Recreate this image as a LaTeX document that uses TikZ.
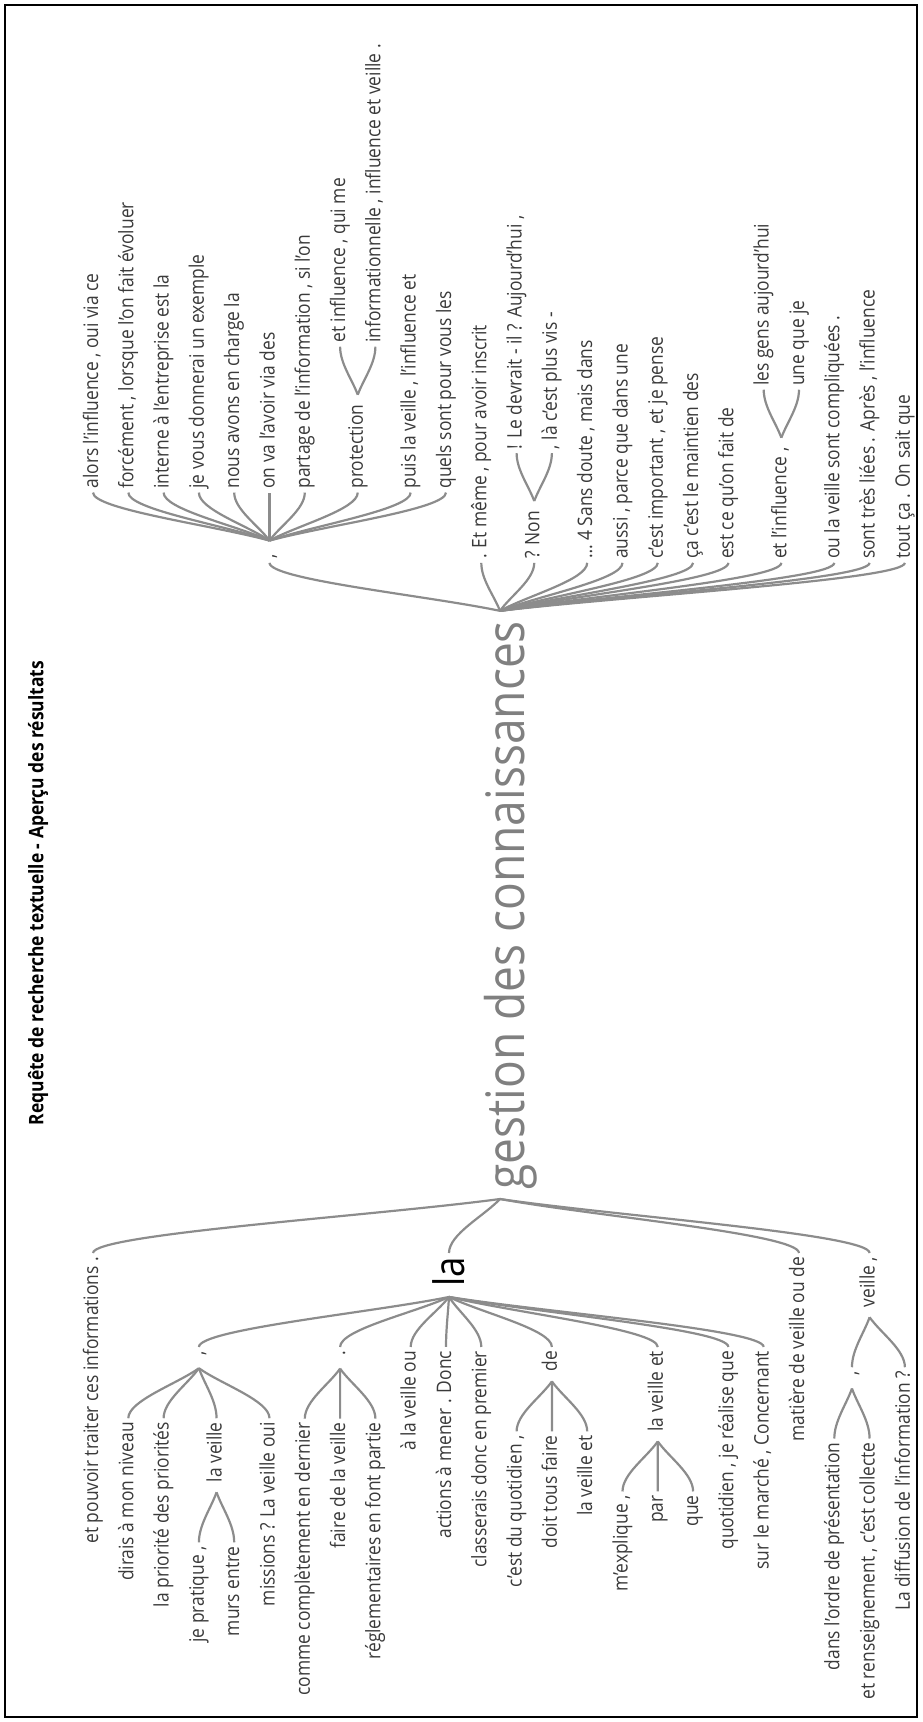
\documentclass[tikz,border=0pt]{standalone}
\usepackage{fontspec}
\setmainfont{Open Sans}[FakeStretch=0.87]
\usetikzlibrary{calc}
\definecolor{txtc}{HTML}{3A3A3A}
\definecolor{rootc}{HTML}{808080}
\definecolor{linec}{HTML}{8C8C8C}
\newcommand\lnk[3]{%
  \coordinate (tmpE) at ([yshift=#3]#2);
  \draw[conn] (#1) .. controls ($(#1)!0.32!(tmpE)$) and ($(tmpE |- #1)!0.65!(tmpE)$) .. (tmpE);}
\begin{document}
\begin{tikzpicture}[x=1pt,y=-1pt,
  conn/.style={draw=linec, line width=2.2pt},
  tx/.style={rotate=90, inner sep=0pt, outer sep=0pt, font=\fontsize{20}{24}\selectfont, text=txtc, text height=15pt, text depth=5pt},
  sfx/.style={tx, anchor=west},
  pfx/.style={tx, anchor=east}]
\useasboundingbox (0,0) rectangle (922,1722);
\draw[line width=1.5pt] (5,5) rectangle (917,1717);

% title
\node[rotate=90, anchor=east, inner sep=0pt, font=\bfseries\fontsize{20}{24}\selectfont] (title) at (38,661) {Requête de recherche textuelle - Aperçu des résultats};

% root
\node[rotate=90, anchor=base west, inner sep=0pt, font=\fontsize{53}{60}\selectfont, text=rootc] (R) at (524,1190) {gestion des connaissances};
\coordinate (hS) at ($(500,0 |- R.east)+(0,-10)$);
\coordinate (hP) at ($(500,0 |- R.west)+(0,9)$);

% ---------- suffix tree (upper part) ----------
\node[sfx] (sC) at ($(269.5,0 |- hS)+(0,-52)$) {,};
\node[sfx] (s11) at ($(481.3,0 |- hS)+(0,-52)$) {. Et même , pour avoir inscrit};
\node[sfx] (sNon) at ($(534.25,0 |- hS)+(0,-52)$) {? Non};
\node[sfx] (s14) at ($(587.2,0 |- hS)+(0,-52)$) {… 4 Sans doute , mais dans};
\node[sfx] (s15) at ($(622.5,0 |- hS)+(0,-52)$) {aussi , parce que dans une};
\node[sfx] (s16) at ($(657.8,0 |- hS)+(0,-52)$) {c'est important , et je pense};
\node[sfx] (s17) at ($(693.1,0 |- hS)+(0,-52)$) {ça c'est le maintien des};
\node[sfx] (s18) at ($(728.4,0 |- hS)+(0,-52)$) {est ce qu'on fait de};
\node[sfx] (sInf) at ($(781.35,0 |- hS)+(0,-52)$) {et l'influence ,};
\node[sfx] (s21) at ($(834.3,0 |- hS)+(0,-52)$) {ou la veille sont compliquées .};
\node[sfx] (s22) at ($(869.6,0 |- hS)+(0,-52)$) {sont très liées . Après , l'influence};
\node[sfx] (s23) at ($(904.9,0 |- hS)+(0,-52)$) {tout ça . On sait que};
\foreach \n in {sC,s11,sNon,s14,s15,s16,s17,s18,sInf,s21,s22,s23} {\lnk{hS}{\n.west}{-4pt}}

\coordinate (hC) at ($(sC.east)+(0,-14)$);
\node[sfx] (c0) at ($(93,0 |- hC)+(0,-52)$) {alors l'influence , oui via ce};
\node[sfx] (c1) at ($(128.3,0 |- hC)+(0,-52)$) {forcément , lorsque l'on fait évoluer};
\node[sfx] (c2) at ($(163.6,0 |- hC)+(0,-52)$) {interne à l'entreprise est la};
\node[sfx] (c3) at ($(198.9,0 |- hC)+(0,-52)$) {je vous donnerai un exemple};
\node[sfx] (c4) at ($(234.2,0 |- hC)+(0,-52)$) {nous avons en charge la};
\node[sfx] (c5) at ($(269.5,0 |- hC)+(0,-52)$) {on va l'avoir via des};
\node[sfx] (c6) at ($(304.8,0 |- hC)+(0,-52)$) {partage de l'information , si l'on};
\node[sfx] (cP) at ($(357.75,0 |- hC)+(0,-52)$) {protection};
\node[sfx] (c9) at ($(410.7,0 |- hC)+(0,-52)$) {puis la veille , l'influence et};
\node[sfx] (c10) at ($(446,0 |- hC)+(0,-52)$) {quels sont pour vous les};
\foreach \n in {c0,c1,c2,c3,c4,c5,c6,cP,c9,c10} {\lnk{hC}{\n.west}{-4pt}}

\coordinate (hPr) at ($(cP.east)+(0,-10)$);
\node[sfx] (c7) at ($(340.1,0 |- hPr)+(0,-52)$) {et influence , qui me};
\node[sfx] (c8) at ($(375.4,0 |- hPr)+(0,-52)$) {informationnelle , influence et veille .};
\foreach \n in {c7,c8} {\lnk{hPr}{\n.west}{-4pt}}

\coordinate (hN) at ($(sNon.east)+(0,-10)$);
\node[sfx] (s12) at ($(516.6,0 |- hN)+(0,-52)$) {! Le devrait - il ? Aujourd'hui ,};
\node[sfx] (s13) at ($(551.9,0 |- hN)+(0,-52)$) {, là c'est plus vis -};
\foreach \n in {s12,s13} {\lnk{hN}{\n.west}{-4pt}}

\coordinate (hI) at ($(sInf.east)+(0,-10)$);
\node[sfx] (s19) at ($(763.7,0 |- hI)+(0,-52)$) {les gens aujourd'hui};
\node[sfx] (s20) at ($(799,0 |- hI)+(0,-52)$) {une que je};
\foreach \n in {s19,s20} {\lnk{hI}{\n.west}{-4pt}}

% ---------- prefix tree (lower part) ----------
\node[pfx] (p0) at ($(93,0 |- hP)+(0,58)$) {et pouvoir traiter ces informations .};
\node[rotate=90, anchor=east, inner sep=0pt, font=\fontsize{42}{48}\selectfont, text=black] (pLa) at ($(449,0 |- hP)+(0,58)$) {la};
\node[pfx] (p20) at ($(799,0 |- hP)+(0,58)$) {matière de veille ou de};
\node[pfx] (pV) at ($(869.6,0 |- hP)+(0,58)$) {veille ,};
\foreach \n in {p0,pLa,p20,pV} {\lnk{hP}{\n.east}{4pt}}

\coordinate (hL) at ($(pLa.west)+(0,10)$);
\node[pfx] (pC) at ($(198.9,0 |- hL)+(0,54)$) {,};
\node[pfx] (pD) at ($(340.1,0 |- hL)+(0,54)$) {.};
\node[pfx] (p9) at ($(410.7,0 |- hL)+(0,54)$) {à la veille ou};
\node[pfx] (p10) at ($(446,0 |- hL)+(0,54)$) {actions à mener . Donc};
\node[pfx] (p11) at ($(481.3,0 |- hL)+(0,54)$) {classerais donc en premier};
\node[pfx] (pDe) at ($(551.9,0 |- hL)+(0,54)$) {de};
\node[pfx] (pLVE) at ($(657.8,0 |- hL)+(0,54)$) {la veille et};
\node[pfx] (p18) at ($(728.4,0 |- hL)+(0,54)$) {quotidien , je réalise que};
\node[pfx] (p19) at ($(763.7,0 |- hL)+(0,54)$) {sur le marché , Concernant};
\foreach \n in {pC,pD,p9,p10,p11,pDe,pLVE,p18,p19} {\lnk{hL}{\n.east}{4pt}}

\coordinate (hCm) at ($(pC.west)+(0,13)$);
\node[pfx] (p1) at ($(128.3,0 |- hCm)+(0,54)$) {dirais à mon niveau};
\node[pfx] (p2) at ($(163.6,0 |- hCm)+(0,54)$) {la priorité des priorités};
\node[pfx] (pLV) at ($(216.55,0 |- hCm)+(0,54)$) {la veille};
\node[pfx] (p5) at ($(269.5,0 |- hCm)+(0,54)$) {missions ? La veille oui};
\foreach \n in {p1,p2,pLV,p5} {\lnk{hCm}{\n.east}{4pt}}

\coordinate (hLV) at ($(pLV.west)+(0,10)$);
\node[pfx] (p3) at ($(198.9,0 |- hLV)+(0,54)$) {je pratique ,};
\node[pfx] (p4) at ($(234.2,0 |- hLV)+(0,54)$) {murs entre};
\foreach \n in {p3,p4} {\lnk{hLV}{\n.east}{4pt}}

\coordinate (hD) at ($(pD.west)+(0,13)$);
\node[pfx] (p6) at ($(304.8,0 |- hD)+(0,54)$) {comme complètement en dernier};
\node[pfx] (p7) at ($(340.1,0 |- hD)+(0,54)$) {faire de la veille};
\node[pfx] (p8) at ($(375.4,0 |- hD)+(0,54)$) {réglementaires en font partie};
\foreach \n in {p6,p7,p8} {\lnk{hD}{\n.east}{4pt}}

\coordinate (hDe) at ($(pDe.west)+(0,10)$);
\node[pfx] (p12) at ($(516.6,0 |- hDe)+(0,54)$) {c'est du quotidien ,};
\node[pfx] (p13) at ($(551.9,0 |- hDe)+(0,54)$) {doit tous faire};
\node[pfx] (p14) at ($(587.2,0 |- hDe)+(0,54)$) {la veille et};
\foreach \n in {p12,p13,p14} {\lnk{hDe}{\n.east}{4pt}}

\coordinate (hLVE) at ($(pLVE.west)+(0,10)$);
\node[pfx] (p15) at ($(622.5,0 |- hLVE)+(0,54)$) {m'explique ,};
\node[pfx] (p16) at ($(657.8,0 |- hLVE)+(0,54)$) {par};
\node[pfx] (p17) at ($(693.1,0 |- hLVE)+(0,54)$) {que};
\foreach \n in {p15,p16,p17} {\lnk{hLVE}{\n.east}{4pt}}

\coordinate (hV) at ($(pV.west)+(0,10)$);
\node[pfx] (pVC) at ($(851.95,0 |- hV)+(0,54)$) {,};
\node[pfx] (p23) at ($(904.9,0 |- hV)+(0,54)$) {La diffusion de l'information ?};
\foreach \n in {pVC,p23} {\lnk{hV}{\n.east}{4pt}}

\coordinate (hVC) at ($(pVC.west)+(0,13)$);
\node[pfx] (p21) at ($(834.3,0 |- hVC)+(0,54)$) {dans l'ordre de présentation};
\node[pfx] (p22) at ($(869.6,0 |- hVC)+(0,54)$) {et renseignement , c'est collecte};
\foreach \n in {p21,p22} {\lnk{hVC}{\n.east}{4pt}}
\end{tikzpicture}
\end{document}
